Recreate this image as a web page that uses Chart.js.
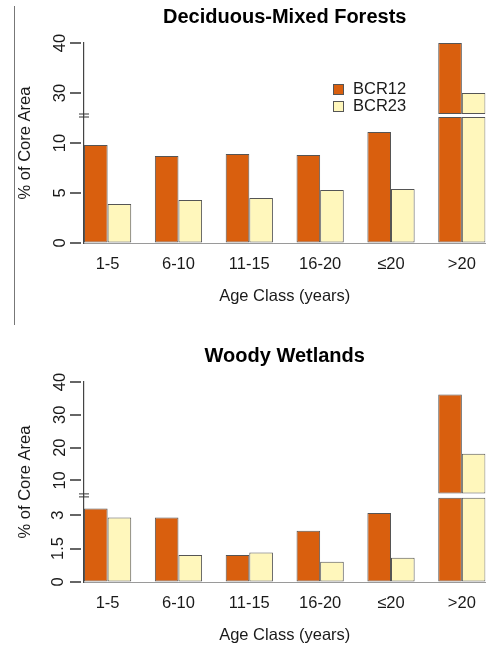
<!DOCTYPE html>
<html>
<head>
<meta charset="utf-8">
<script src="https://cdn.jsdelivr.net/npm/chart.js@4"></script>
<style>
  html, body { margin: 0; padding: 0; background: #fff; overflow: hidden; }
  #wrap { position: relative; width: 488px; height: 648px; overflow: hidden; }
  .panel { position: absolute; left: 0; }
  #c1 { top: 0; }
  #c2 { top: 339px; }
  #rule { position: absolute; left: 14px; top: 6px; height: 319px; border-left: 1.5px solid #777; }
</style>
</head>
<body>
<div id="wrap">
  <div id="rule"></div>
  <canvas class="panel" id="c1" width="488" height="320"></canvas>
  <canvas class="panel" id="c2" width="488" height="320"></canvas>
</div>
<script>
const categories = ['1-5', '6-10', '11-15', '16-20', '≤20', '>20'];

const forestBCR12 = [9.8, 8.7, 8.9, 8.8, 11.1, 40];
const forestBCR23 = [3.9, 4.3, 4.5, 5.3, 5.4, 30];
const wetlandBCR12 = [3.29, 2.89, 1.21, 2.3, 3.09, 36.2];
const wetlandBCR23 = [2.89, 1.21, 1.32, 0.91, 1.09, 18.1];

// broken y axes: lower and upper value ranges, their ticks,
// and where tall bars are cut below / resumed above the break
const forestLowRange = [0, 12.75];
const forestHighRange = [25.5, 40];
const forestLowTicks = [0, 5, 10];
const forestHighTicks = [30, 40];
const forestCut = [12.6, 25.8];

const wetlandLowRange = [0, 3.88];
const wetlandHighRange = [5.44, 40];
const wetlandLowTicks = [0, 1.5, 3];
const wetlandHighTicks = [10, 20, 30, 40];
const wetlandCut = [3.78, 6.05];

const ORANGE = '#d95f0e';
const YELLOW = '#fff7bc';
const EDGE = '#555555';
const INK = '#1a1a1a';
const FONT = "'Liberation Sans', Arial, Helvetica, sans-serif";

// y title, y tick marks, break marks and the legend
const decor = {
  id: 'decor',
  afterDraw(chart, args, opts) {
    const {ctx, chartArea} = chart;
    const low = chart.scales.yLow;
    ctx.save();
    ctx.fillStyle = INK;
    ctx.font = '16.5px ' + FONT;
    ctx.translate(25, (chartArea.top + chartArea.bottom) / 2);
    ctx.rotate(-Math.PI / 2);
    ctx.textAlign = 'center';
    ctx.textBaseline = 'middle';
    ctx.fillText(opts.yTitle, 0, 0);
    ctx.restore();

    // R-style ticks, detached a little from the axis line
    ctx.save();
    ctx.strokeStyle = '#333';
    ctx.lineWidth = 1.5;
    for (const s of [chart.scales.yLow, chart.scales.yHigh]) {
      for (const t of s.ticks) {
        const y = Math.round(s.getPixelForValue(t.value));
        ctx.beginPath();
        ctx.moveTo(s.right - 14, y);
        ctx.lineTo(s.right - 3, y);
        ctx.stroke();
      }
    }
    ctx.lineWidth = 1;
    for (const dy of [-1.5, 1.5]) {
      ctx.beginPath();
      ctx.moveTo(low.right - 5, low.top + dy);
      ctx.lineTo(low.right + 5, low.top + dy);
      ctx.stroke();
    }
    ctx.restore();

    if (!opts.legend) return;
    ctx.save();
    ctx.font = '16.5px ' + FONT;
    ctx.textBaseline = 'middle';
    chart.data.datasets.slice(0, 2).forEach((d, i) => {
      const x = 333, y = chartArea.top + 41 + i * 17;
      ctx.fillStyle = d.backgroundColor;
      ctx.fillRect(x, y, 10, 10);
      ctx.strokeStyle = EDGE;
      ctx.strokeRect(x + 0.5, y + 0.5, 10, 10);
      ctx.fillStyle = INK;
      ctx.fillText(d.label, x + 20, y + 5.5);
    });
    ctx.restore();
  }
};

function yAxis(range, ticks, weight, order) {
  return {
    type: 'linear', position: 'left', stack: 'brk', stackWeight: weight, weight: order,
    min: range[0], max: range[1], stacked: false, beginAtZero: false, offset: false,
    afterBuildTicks: s => { s.ticks = ticks.map(v => ({value: v})); },
    afterFit: s => { s.width = 84; },
    grid: {display: true, drawOnChartArea: false, drawTicks: false},
    border: {display: true, color: '#444', width: 1.2},
    ticks: {
      minRotation: 90, maxRotation: 90, crossAlign: 'center', padding: 14, autoSkip: false,
      color: INK, font: {family: FONT, size: 16.5}, callback: v => String(v)
    }
  };
}

function makePanel(id, title, bcr12, bcr23, lowRange, highRange, lowTicks, highTicks, cut, weights, legend) {
  const lowPart = vals => vals.map((v, i) => ({x: i, y: Math.min(v, cut[0])}));
  const highPart = vals => vals.map((v, i) => ({x: i, y: v > cut[0] ? [cut[1], v] : null}))
    .filter(p => p.y !== null);
  const bar = {borderColor: EDGE, borderWidth: 1, borderSkipped: false, categoryPercentage: 2 / 3, barPercentage: 1};

  new Chart(document.getElementById(id), {
    type: 'bar',
    data: {
      datasets: [
        {...bar, label: 'BCR12', data: lowPart(bcr12), yAxisID: 'yLow', stack: 'a', backgroundColor: ORANGE},
        {...bar, label: 'BCR23', data: lowPart(bcr23), yAxisID: 'yLow', stack: 'b', backgroundColor: YELLOW},
        {...bar, label: 'BCR12', data: highPart(bcr12), yAxisID: 'yHigh', stack: 'a', backgroundColor: ORANGE},
        {...bar, label: 'BCR23', data: highPart(bcr23), yAxisID: 'yHigh', stack: 'b', backgroundColor: YELLOW}
      ]
    },
    options: {
      responsive: false,
      animation: false,
      layout: {padding: 0},
      plugins: {
        legend: {display: false},
        tooltip: {enabled: false},
        title: {
          display: true, text: title, fullSize: false, color: '#000',
          font: {family: FONT, size: 20, weight: 'bold'}, padding: {top: 5, bottom: 14}
        },
        decor: {yTitle: '% of Core Area', legend: legend}
      },
      scales: {
        x: {
          type: 'linear', min: -1 / 3, max: categories.length - 2 / 3, offset: false,
          afterBuildTicks: s => { s.ticks = categories.map((c, i) => ({value: i})); },
          afterFit: s => { s.height = 77; },
          grid: {display: true, drawOnChartArea: false, drawTicks: false},
          border: {display: true, color: '#9a9a9a'},
          ticks: {
            autoSkip: false, maxRotation: 0, padding: 12, color: INK,
            font: {family: FONT, size: 16.5}, callback: v => categories[v]
          },
          title: {
            display: true, text: 'Age Class (years)', color: INK,
            font: {family: FONT, size: 16.5}, padding: {top: 0, bottom: 14}
          }
        },
        yLow: yAxis(lowRange, lowTicks, weights[0], 0),
        yHigh: yAxis(highRange, highTicks, weights[1], 1)
      }
    },
    plugins: [decor]
  });
}

makePanel('c1', 'Deciduous-Mixed Forests', forestBCR12, forestBCR23,
  forestLowRange, forestHighRange, forestLowTicks, forestHighTicks, forestCut, [127.5, 72.5], true);
makePanel('c2', 'Woody Wetlands', wetlandBCR12, wetlandBCR23,
  wetlandLowRange, wetlandHighRange, wetlandLowTicks, wetlandHighTicks, wetlandCut, [86.6, 113.4], false);
</script>
</body>
</html>
